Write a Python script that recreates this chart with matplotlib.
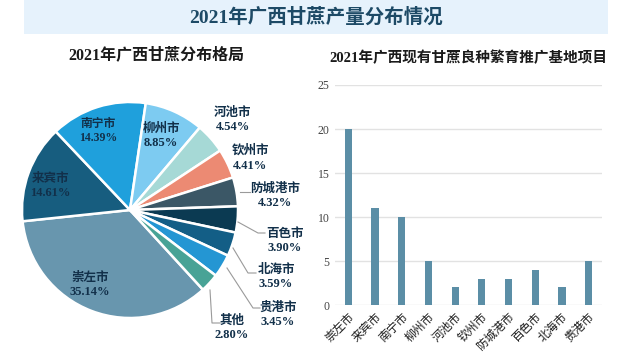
import matplotlib
matplotlib.use("Agg")
import matplotlib.pyplot as plt
from matplotlib.patches import Rectangle

plt.rcParams['font.family'] = ['Liberation Serif', 'Noto Sans CJK SC', 'DejaVu Sans']

# ---------------- data ----------------
pie_labels = ['崇左市', '来宾市', '南宁市', '柳州市', '河池市', '钦州市',
              '防城港市', '百色市', '北海市', '贵港市', '其他']
pie_values = [35.14, 14.61, 14.39, 8.85, 4.54, 4.41, 4.32, 3.90, 3.59, 3.45, 2.80]
pie_colors = ['#6896ae', '#175d7f', '#1fa0dc', '#7dcbf1', '#a6d9d6', '#ec8a73',
              '#3b5766', '#0b3a52', '#135e86', '#2496d3', '#48a396']

bar_labels = ['崇左市', '来宾市', '南宁市', '柳州市', '河池市', '钦州市',
              '防城港市', '百色市', '北海市', '贵港市']
bar_values = [20, 11, 10, 5, 2, 3, 3, 4, 2, 5]
y_ticks = [0, 5, 10, 15, 20, 25]

main_title = '2021年广西甘蔗产量分布情况'
pie_title = '2021年广西甘蔗分布格局'
bar_title = '2021年广西现有甘蔗良种繁育推广基地项目'

# ---------------- figure ----------------
W, H = 640, 352
fig = plt.figure(figsize=(W / 100, H / 100), dpi=100)
fig.patch.set_facecolor('white')

def fx(px):
    return px / W

def fy(py):
    return 1 - py / H

# title banner
fig.patches.append(Rectangle((fx(24), fy(34)), fx(608) - fx(24), 34 / H,
                             transform=fig.transFigure, facecolor='#e6f2fc',
                             edgecolor='none', zorder=0))
fig.text(fx(316), fy(17), main_title, ha='center', va='center',
         fontsize=14, fontweight='bold', color='#1d4a66')

# ---------------- pie ----------------
cx, cy, r = 130, 210, 108
ax_p = fig.add_axes([fx(cx - r), fy(cy + r), 2 * r / W, 2 * r / H])
ax_p.pie(pie_values, colors=pie_colors, startangle=-47.5, counterclock=False,
         radius=1.0, wedgeprops=dict(edgecolor='white', linewidth=1.8))
ax_p.set_xlim(-1, 1)
ax_p.set_ylim(-1, 1)
ax_p.set_aspect('auto')
ax_p.axis('off')

fig.text(fx(156), fy(55), pie_title, ha='center', va='center',
         fontsize=11.5, fontweight='bold', color='#1a1a1a')

def d(px, py):
    return ((px - cx) / r, (cy - py) / r)

label_pos = {
    '崇左市': (90, 285, 9), '来宾市': (50, 186, 9), '南宁市': (98, 131, 8.5),
    '柳州市': (161, 136, 9), '河池市': (233, 120, 9), '钦州市': (250, 158, 9),
    '防城港市': (275, 196, 9), '百色市': (285, 241, 9), '北海市': (276, 277, 9),
    '贵港市': (278, 315, 9), '其他': (232, 328, 9),
}
for name, val in zip(pie_labels, pie_values):
    px, py, fs = label_pos[name]
    x, y = d(px, py)
    ax_p.text(x, y, f'{name}\n{val:.2f}%', ha='center', va='center',
              fontsize=fs, fontweight='bold', color='#12304a',
              linespacing=1.3, clip_on=False)

leaders = [
    [(240, 192), (250, 192)],
    [(238, 222), (258, 233), (265, 233)],
    [(233, 248), (248, 273), (256, 273)],
    [(227, 268), (253, 308), (260, 308)],
    [(210, 290), (212, 323), (220, 323)],
]
for pts in leaders:
    xs = [d(*p)[0] for p in pts]
    ys = [d(*p)[1] for p in pts]
    ax_p.plot(xs, ys, color='#9a9a9a', lw=0.8, clip_on=False)

# ---------------- bar ----------------
ax_b = fig.add_axes([fx(335), fy(305), (602 - 335) / W, (305 - 85) / H])
xpos = range(len(bar_labels))
ax_b.bar(xpos, bar_values, width=0.27, color='#5b8ea6', zorder=3)
ax_b.set_ylim(0, 25)
ax_b.set_xlim(-0.5, len(bar_labels) - 0.5)
ax_b.set_yticks(y_ticks)
ax_b.set_yticklabels([str(t) for t in y_ticks], fontsize=8.5, color='#444444')
ax_b.set_xticks(list(xpos))
ax_b.set_xticklabels(bar_labels, rotation=45, ha='right', rotation_mode='anchor',
                     fontsize=8.5, color='#1a1a1a')
ax_b.tick_params(axis='both', length=0, pad=4)
ax_b.grid(axis='y', color='#e2e2e2', lw=1, zorder=0)
for s in ax_b.spines.values():
    s.set_visible(False)
ax_b.set_facecolor('none')

fig.text(fx(468), fy(58), bar_title, ha='center', va='center',
         fontsize=10.5, fontweight='bold', color='#1a1a1a')

fig.savefig('out.png', dpi=100, facecolor='white')
